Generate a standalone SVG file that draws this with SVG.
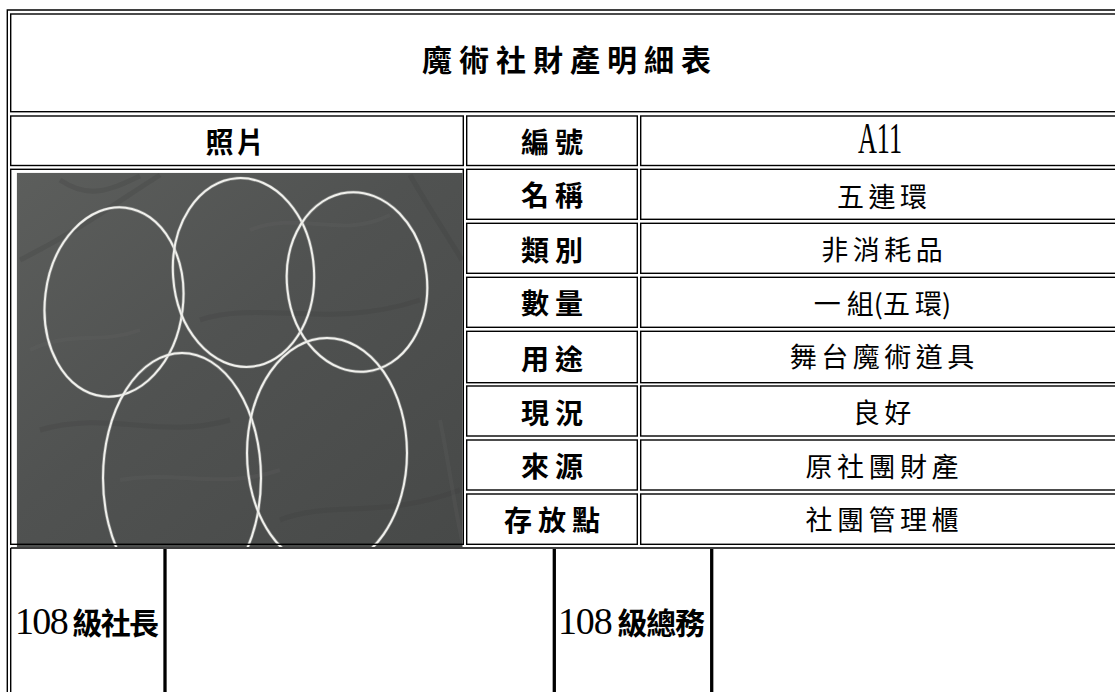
<svg xmlns="http://www.w3.org/2000/svg" width="1115" height="692" viewBox="0 0 1115 692">
<style>
.ln{fill:none;stroke:#000;stroke-width:1.4}
.thick{fill:none;stroke:#000;stroke-width:3.3}
.lbl{font-family:"Noto Sans CJK TC","Noto Sans CJK SC",sans-serif;font-size:28px;font-weight:700;letter-spacing:6px;text-anchor:middle;fill:#000}
.val{font-family:"Noto Sans CJK TC","Noto Sans CJK SC",sans-serif;font-size:27px;font-weight:400;letter-spacing:4.5px;text-anchor:middle;fill:#000}
.num{font-family:"Liberation Serif",serif;font-size:38px;font-weight:400}
.sig{font-family:"Noto Sans CJK TC","Noto Sans CJK SC",sans-serif;font-size:30px;font-weight:700;letter-spacing:1px}
.ring{fill:none;stroke:#f0f0ec;stroke-width:2}
.ringglow{fill:none;stroke:#b4b6b3;stroke-width:3.4;opacity:0.45}
.fold{fill:none;stroke:#3b3d3c;stroke-width:5;opacity:0.22}
.foldl{fill:none;stroke:#6a6c6b;stroke-width:4;opacity:0.18}
</style>
<defs>
<linearGradient id="cloth" x1="0" y1="0" x2="1" y2="1">
<stop offset="0" stop-color="#5c5e5c"/>
<stop offset="0.45" stop-color="#505251"/>
<stop offset="1" stop-color="#474948"/>
</linearGradient>
<clipPath id="photoClip"><rect x="16.7" y="172.7" width="446" height="374.5"/></clipPath>
</defs>
<rect x="0" y="0" width="1115" height="692" fill="#fff"/>

<g id="photo" clip-path="url(#photoClip)">
<rect x="16.7" y="172.7" width="446" height="374.5" fill="url(#cloth)"/>
<path class="fold" d="M20 260 C80 230 120 200 160 175"/>
<path class="fold" d="M60 180 C90 200 110 190 140 176"/>
<path class="fold" d="M200 320 C260 300 330 330 420 300"/>
<path class="fold" d="M40 430 C110 410 160 440 230 420"/>
<path class="fold" d="M280 520 C330 500 380 520 460 490"/>
<path class="fold" d="M410 175 C430 210 450 240 462 260"/>
<path class="foldl" d="M30 350 C70 330 100 345 140 330"/>
<path class="foldl" d="M250 230 C300 210 340 240 390 215"/>
<path class="foldl" d="M120 480 C180 470 220 490 280 470"/>
<path class="foldl" d="M440 420 C450 470 455 510 462 540"/>
<g transform="rotate(7 114 302)"><ellipse class="ringglow" cx="114" cy="302" rx="69" ry="95"/><ellipse class="ring" cx="114" cy="302" rx="69" ry="95"/></g>
<g transform="rotate(-4 243.5 272.5)"><ellipse class="ringglow" cx="243.5" cy="272.5" rx="70.5" ry="94.5"/><ellipse class="ring" cx="243.5" cy="272.5" rx="70.5" ry="94.5"/></g>
<g transform="rotate(-6 357 282)"><ellipse class="ringglow" cx="357" cy="282" rx="70" ry="90"/><ellipse class="ring" cx="357" cy="282" rx="70" ry="90"/></g>
<ellipse class="ringglow" cx="182" cy="478" rx="79" ry="125"/><ellipse class="ring" cx="182" cy="478" rx="79" ry="125"/>
<ellipse class="ringglow" cx="327" cy="453" rx="80" ry="115"/><ellipse class="ring" cx="327" cy="453" rx="80" ry="115"/>
</g>

<g id="grid">
<path class="ln" d="M1130 10 H7.3 V700"/>
<path class="ln" d="M10.7 548 H1130 M10.7 548 V700"/>
<line class="thick" x1="165" y1="549" x2="165" y2="700"/>
<line class="thick" x1="554.3" y1="549" x2="554.3" y2="700"/>
<line class="thick" x1="711.7" y1="549" x2="711.7" y2="700"/>
</g>

<g id="title">
<rect class="ln" x="10.7" y="14" width="1120" height="97.7"/>
<text x="570" y="71" class="lbl" style="font-size:30px;letter-spacing:7px">魔術社財產明細表</text>
</g>

<g id="photo-header">
<rect class="ln" x="10.7" y="116" width="452.6" height="49.5"/>
<text x="236.5" y="153" class="lbl" style="letter-spacing:3px">照片</text>
</g>

<g id="photo-cell">
<rect class="ln" x="10.7" y="169.3" width="452.6" height="375"/>
</g>

<g id="row-id">
<rect class="ln" x="466.7" y="116" width="170.6" height="49.5"/>
<rect class="ln" x="640.7" y="116" width="490" height="49.5"/>
<text x="555" y="153" class="lbl">編號</text>
<text x="858" y="153" font-family="Liberation Serif, serif" font-size="44" textLength="44" lengthAdjust="spacingAndGlyphs">A11</text>
</g>

<g id="row-name">
<rect class="ln" x="466.7" y="169.3" width="170.6" height="50"/>
<rect class="ln" x="640.7" y="169.3" width="490" height="50"/>
<text x="555" y="206.3" class="lbl">名稱</text>
<text x="884.3" y="206.5" class="val">五連環</text>
</g>

<g id="row-type">
<rect class="ln" x="466.7" y="223.3" width="170.6" height="50"/>
<rect class="ln" x="640.7" y="223.3" width="490" height="50"/>
<text x="555" y="261" class="lbl">類別</text>
<text x="884.3" y="260" class="val">非消耗品</text>
</g>

<g id="row-qty">
<rect class="ln" x="466.7" y="277.3" width="170.6" height="50"/>
<rect class="ln" x="640.7" y="277.3" width="490" height="50"/>
<text x="555" y="314" class="lbl">數量</text>
<text x="882.5" y="313.5" class="val"><tspan style="letter-spacing:6px">一</tspan><tspan style="letter-spacing:0">組(</tspan><tspan style="letter-spacing:5px">五</tspan><tspan style="letter-spacing:0">環)</tspan></text>
</g>

<g id="row-use">
<rect class="ln" x="466.7" y="331.3" width="170.6" height="51.4"/>
<rect class="ln" x="640.7" y="331.3" width="490" height="51.4"/>
<text x="555" y="369.5" class="lbl">用途</text>
<text x="884.3" y="367" class="val">舞台魔術道具</text>
</g>

<g id="row-status">
<rect class="ln" x="466.7" y="386" width="170.6" height="50"/>
<rect class="ln" x="640.7" y="386" width="490" height="50"/>
<text x="555" y="423.5" class="lbl">現況</text>
<text x="884.3" y="422.5" class="val">良好</text>
</g>

<g id="row-source">
<rect class="ln" x="466.7" y="440" width="170.6" height="50"/>
<rect class="ln" x="640.7" y="440" width="490" height="50"/>
<text x="555" y="476.5" class="lbl">來源</text>
<text x="884.3" y="476.5" class="val">原社團財產</text>
</g>

<g id="row-location">
<rect class="ln" x="466.7" y="494" width="170.6" height="50.3"/>
<rect class="ln" x="640.7" y="494" width="490" height="50.3"/>
<text x="555" y="530.5" class="lbl">存放點</text>
<text x="884.3" y="529.5" class="val">社團管理櫃</text>
</g>

<g id="sign-president">
<text x="15" y="634" class="sig" textLength="145" lengthAdjust="spacing"><tspan class="num">108</tspan> 級社長</text>
</g>

<g id="sign-general-affairs">
<text x="558" y="634" class="sig" textLength="148" lengthAdjust="spacing"><tspan class="num">108</tspan> 級總務</text>
</g>
</svg>
